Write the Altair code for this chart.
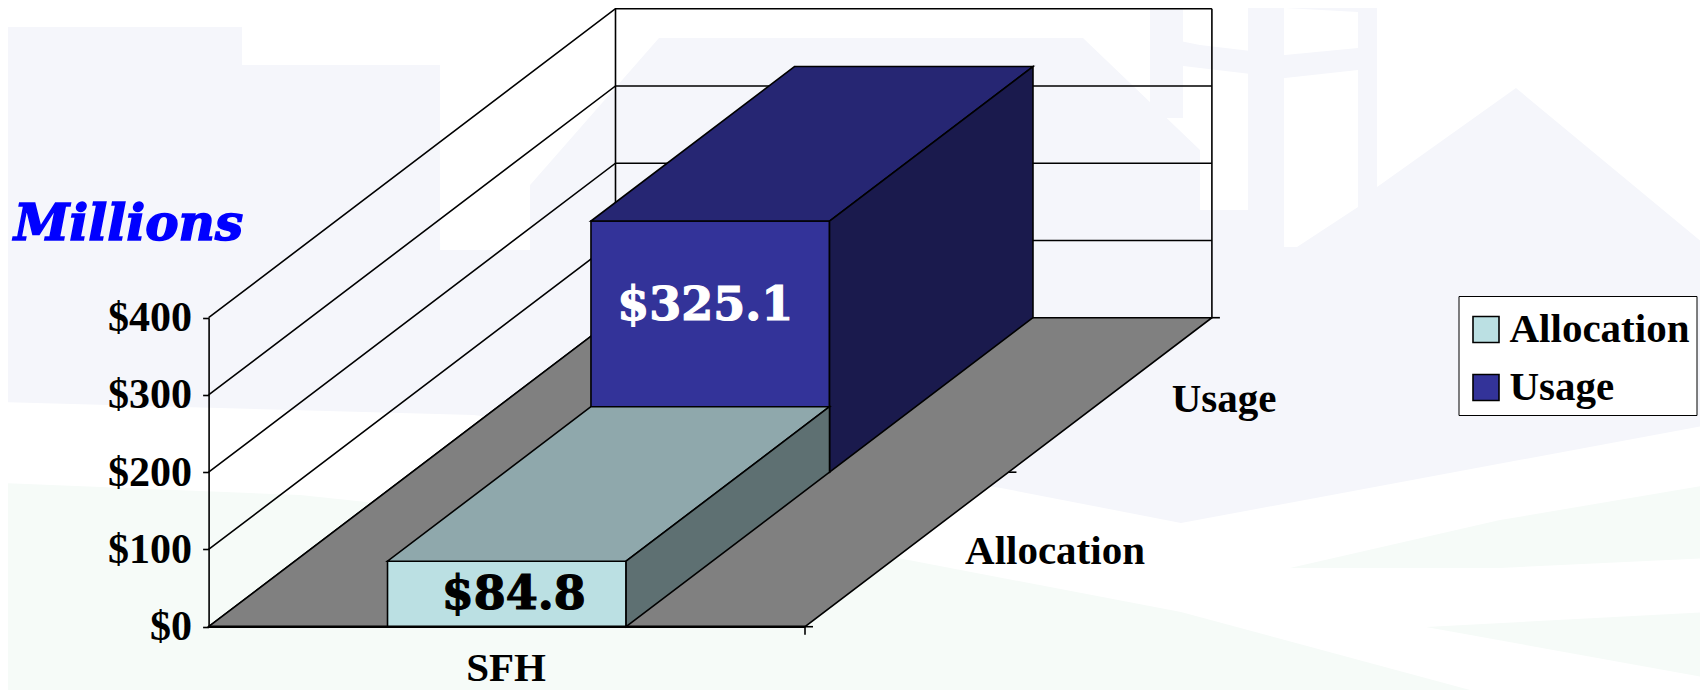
import altair as alt
import pandas as pd

# ---- chart values
categories = ["SFH"]
series = ["Allocation", "Usage"]
values = [84.8, 325.1]
value_labels = ["$84.8", "$325.1"]
axis_ticks = [0, 100, 200, 300, 400]

series_front = ["#BBE0E3", "#333399"]
series_top = ["#8FA8AC", "#262673"]
series_side = ["#5E7072", "#1A1A4D"]

# ---- faint page artwork: (x, y) outlines
lav_x = [0, 242, 242.1, 440, 440.1, 530, 530.1, 659, 1083, 1200, 1200.1, 1248, 1248.1, 1284, 1284.1, 1297, 1358, 1358.1, 1377, 1377.1, 1516, 1708]
lav_y = [27, 27, 65, 65, 250, 250, 185, 38, 38, 150, 210, 210, 0, 0, 247, 247, 207, 0, 0, 187, 88, 247]
ring_x = [1150, 1200, 1285, 1358]
ring_top = [35, 45, 55, 48]
ring_bot = [62, 68, 78, 70]
col_x = [1150, 1183]
col_top = [0, 0]
col_bot = [118, 118]
cap_x = [1285, 1358]
cap_top = [0, 0]
cap_bot = [8, 12]
white_x = [0, 474, 1001, 1181, 1708]
white_y = [402, 415, 488, 523, 425]
green_x = [0, 300, 898, 1181, 1470]
green_y = [483, 495, 558, 612, 690]
band1_x = [1290, 1500, 1708]
band1_top = [568, 520, 485]
band1_bot = [568, 568, 558]
band2_x = [1426, 1708]
band2_top = [627, 612]
band2_bot = [627, 678]

# ---- oblique projection of the 3-D box
LEFT, BASE = 208.6, 626.7
WIDE, DX, DY = 596.4, 406.9, 309.0
PX_PER_UNIT = 309.0 / 400
GAP = 0.3
LINE = 1.6


def pt(u, d, v):
    return LEFT + u * WIDE + d * DX, BASE - d * DY - v * PX_PER_UNIT


W, H = 1692, 682
X = alt.Scale(domain=[8, 8 + W], range=[0, W], nice=False, zero=False)
Y = alt.Scale(domain=[8 + H, 8], range=[H, 0], nice=False, zero=False)
ax = alt.X("x:Q", scale=X, axis=None)
ay = alt.Y("y:Q", scale=Y, axis=None)


def bg_area(xs, tops, bots, color):
    df = pd.DataFrame({"x": xs, "y": tops, "y2": bots})
    return alt.Chart(df).mark_area(color=color, interpolate="linear", clip=True).encode(ax, ay, y2="y2:Q")


LAV, GRN = "#F5F6FB", "#F6FBF8"
bg = [
    bg_area(lav_x, lav_y, [700] * len(lav_x), LAV),
    bg_area(ring_x, ring_top, ring_bot, LAV),
    bg_area(col_x, col_top, col_bot, LAV),
    bg_area(cap_x, cap_top, cap_bot, LAV),
    bg_area(white_x, white_y, [700] * len(white_x), "#FFFFFF"),
    bg_area(green_x, green_y, [700] * len(green_x), GRN),
    bg_area(band1_x, band1_top, band1_bot, GRN),
    bg_area(band2_x, band2_top, band2_bot, GRN),
]

# walls: gridlines run along the left wall then the back wall
grid_rows = []
for t in axis_ticks:
    for i, (u, d) in enumerate([(0, 0), (0, 1), (1, 1)]):
        x, y = pt(u, d, t)
        grid_rows.append({"x": x, "y": y, "g": t, "i": i})
grid = alt.Chart(pd.DataFrame(grid_rows)).mark_line(color="black", strokeWidth=LINE).encode(
    ax, ay, detail="g:N", order="i:Q")
wall_rows = []
for u in (0, 1):
    for i, v in enumerate((0, 400)):
        x, y = pt(u, 1, v)
        wall_rows.append({"x": x, "y": y, "g": u, "i": i})
walls = alt.Chart(pd.DataFrame(wall_rows)).mark_line(color="black", strokeWidth=LINE).encode(
    ax, ay, detail="g:N", order="i:Q")

# floor
fx0, fy0 = pt(0, 0, 0)
fx1, _ = pt(1, 0, 0)
bx0, by0 = pt(0, 1, 0)
bx1, _ = pt(1, 1, 0)
floor = alt.Chart(pd.DataFrame({"y": [fy0, by0], "x": [fx0, bx0], "x2": [fx1, bx1]})).mark_area(
    color="#808080", stroke="black", strokeWidth=LINE, orient="horizontal").encode(ax, ay, x2="x2:Q")

# bars
front_rows, top_rows, side_rows, label_rows = [], [], [], []
label_nudge = [(7, 1), (-5, 1.5)]
for k, (name, val) in enumerate(zip(series, values)):
    d0, d1 = k / len(series), (k + 1) / len(series)
    u0, u1 = GAP, 1 - GAP
    xa, ya = pt(u0, d0, val)
    xb, yb0 = pt(u1, d0, 0)
    for x in (xa, xb):
        front_rows.append({"x": x, "y": ya, "y2": yb0, "series": name, "k": k})
    xc, yc = pt(u0, d1, val)
    xd, _ = pt(u1, d1, val)
    top_rows.append({"y": ya, "x": xa, "x2": xb, "shade": series_top[k], "k": k})
    top_rows.append({"y": yc, "x": xc, "x2": xd, "shade": series_top[k], "k": k})
    _, yd0 = pt(u1, d1, 0)
    side_rows.append({"x": xb, "y": ya, "y2": yb0, "shade": series_side[k], "k": k})
    side_rows.append({"x": xd, "y": yc, "y2": yd0, "shade": series_side[k], "k": k})
    label_rows.append({"x": (xa + xb) / 2 + label_nudge[k][0],
                       "y": ((ya + yb0) / 2 if not k else ya + 83) + label_nudge[k][1],
                       "t": value_labels[k], "c": "white" if k else "black"})

front_df = pd.DataFrame(front_rows)
top_df = pd.DataFrame(top_rows)
side_df = pd.DataFrame(side_rows)
stroke = dict(stroke="black", strokeWidth=LINE)


def bar_layers(k):
    fr = alt.Chart(pd.DataFrame(front_df[front_df.k == k])).mark_area(orient="vertical", **stroke).encode(
        ax, ay, y2="y2:Q",
        color=alt.Color("series:N",
                        scale=alt.Scale(domain=series, range=series_front),
                        legend=alt.Legend(title=" ", titleFontSize=6, titlePadding=0,
                                          orient="none", legendX=1458.5 - 8, legendY=296 - 8,
                                          strokeColor="black", fillColor="white", padding=7,
                                          symbolType="square", symbolSize=676, symbolStrokeColor="black",
                                          symbolStrokeWidth=1.6, labelFont="Liberation Serif",
                                          labelFontWeight="bold", labelFontSize=41, labelColor="black",
                                          labelLimit=400, labelOffset=3, rowPadding=16)))
    tp = alt.Chart(pd.DataFrame(top_df[top_df.k == k])).mark_area(orient="horizontal", **stroke).encode(
        ax, ay, x2="x2:Q", fill=alt.Fill("shade:N", scale=None))
    sd = alt.Chart(pd.DataFrame(side_df[side_df.k == k])).mark_area(orient="vertical", **stroke).encode(
        ax, ay, y2="y2:Q", fill=alt.Fill("shade:N", scale=None))
    return [fr, tp, sd]


bars = bar_layers(1) + bar_layers(0)

# base line and depth ticks
rule_rows = [{"x": fx0, "x2": fx1, "y": fy0, "y2": fy0, "w": 2.6}]
rule_rows.append({"x": fx1, "x2": fx1, "y": fy0, "y2": fy0 + 8, "w": LINE})
for d in (0, 0.5, 1):
    x, y = pt(1, d, 0)
    rule_rows.append({"x": x, "x2": x + 8, "y": y, "y2": y, "w": LINE})
rules = alt.Chart(pd.DataFrame(rule_rows)).mark_rule(color="black").encode(
    ax, ay, x2="x2:Q", y2="y2:Q", strokeWidth=alt.StrokeWidth("w:Q", scale=None))

# value labels (white or black, thickened with a stroke of the same colour)
vals = alt.Chart(pd.DataFrame(label_rows)).mark_text(
    font="DejaVu Serif", fontWeight="bold", fontSize=46, strokeWidth=1.2, align="center", baseline="middle").encode(
    ax, ay, text="t:N", color=alt.Color("c:N", scale=None), stroke=alt.Stroke("c:N", scale=None))

# text around the box
tx = {"font": "Liberation Serif", "fontWeight": "bold", "fontSize": 41, "color": "black",
      "baseline": "alphabetic", "align": "center"}
cat_df = pd.DataFrame({"x": [506, 1055, 1224], "y": [681, 564, 412], "t": categories + series})
cats = alt.Chart(cat_df).mark_text(**tx).encode(ax, ay, text="t:N")
millions = alt.Chart(pd.DataFrame({"x": [128.5], "y": [240], "t": ["Millions"]})).mark_text(
    font="DejaVu Serif", fontWeight="bold", fontStyle="italic", fontSize=50, color="#0000FF",
    stroke="#0000FF", strokeWidth=1.5, baseline="alphabetic", align="center").encode(ax, ay, text="t:N")

# real value axis, drawn along the left edge of the wall, above the page artwork
axis_layer = alt.Chart(pd.DataFrame({"v": axis_ticks})).mark_rule(opacity=0).encode(
    x=alt.value(0), x2=alt.value(0),
    y=alt.Y("v:Q",
            scale=alt.Scale(domain=[0, 400], range=[BASE - 8, BASE - 309 - 8], nice=False),
            axis=alt.Axis(orient="left", zindex=1, values=axis_ticks, title=None,
                          labelExpr="'$' + datum.value", grid=False,
                          offset=-(LEFT - 8), domainColor="black", domainWidth=LINE, tickColor="black",
                          tickWidth=LINE, tickSize=6, labelPadding=11, labelFont="Liberation Serif",
                          labelFontWeight="bold", labelFontSize=42, labelColor="black")))

chart = alt.layer(*bg, grid, walls, floor, *bars, rules, vals, cats, millions, axis_layer).resolve_scale(
    y="independent"
).properties(
    width=W, height=H, autosize=alt.AutoSizeParams(type="none"), padding=0, background="white"
).configure_view(stroke=None)

chart.save("out.html", embed_options={"renderer": "svg", "actions": False})
